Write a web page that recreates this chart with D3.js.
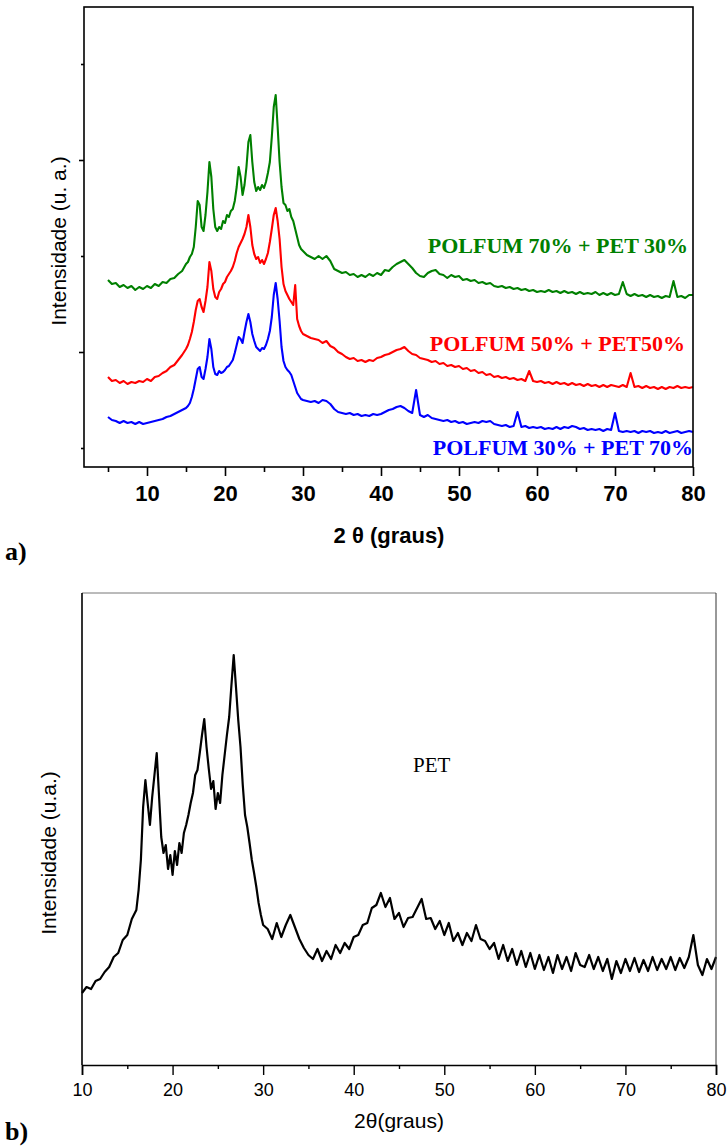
<!DOCTYPE html>
<html>
<head>
<meta charset="utf-8">
<script src="https://cdn.jsdelivr.net/npm/d3@7"></script>
<style>
  html, body { margin: 0; padding: 0; background: #fff; }
  svg { display: block; }
  .sans { font-family: "Liberation Sans", Arial, sans-serif; }
  .serif { font-family: "Liberation Serif", "Times New Roman", serif; }
</style>
</head>
<body>
<svg id="fig" width="727" height="1146"></svg>
<script>
// ---------- Panel a: POLFUM / PET blends ----------
// sampling angles (2θ, degrees): 0.5° steps, 0.25° through the crystalline region
const anglesA = [...d3.range(5, 15, 0.5), ...d3.range(15, 30, 0.25), ...d3.range(30, 80.001, 0.5)];

const blend70_30 = [
  187,183,184,180,182,179,181,177,180,178,181,179,183,181,185,184,188,189,193,196,203,
  205,210,213,220, 240,266,262,240, 236,252,275,305, 290,258,240,236, 240,238,246,244,
  252,250,256,258, 266,280,300,290, 272,282,300,325, 332,305,285,276, 280,277,282,279,
  285,294,305,330, 360,372,340,305, 280,264,262,256, 258,250,246,238, 230,222,218,216,
  212,210,208,211,208,211,206,198,196,194,
  195,192,193,190,192,190,193,191,194,192,
  197,196,200,203,205,207,203,199,194,191,
  190,194,196,197,193,192,189,192,190,191,
  187,188,186,187,184,185,183,184,181,180,
  181,179,180,178,179,177,178,176,177,175,
  176,175,177,175,176,174,176,174,175,173,
  175,173,174,173,175,172,174,172,174,172,
  173,185,173,171,173,171,172,170,172,170,
  171,169,171,170,186,170,171,169,172,172
];

const blend50_50 = [
  90,86,87,84,86,83,85,84,86,85,88,86,90,91,94,96,100,102,107,112,118,
  122,128,135,145, 157,166,168,160, 155,166,180,205, 196,178,170,168, 175,178,183,185,
  190,193,196,200, 206,214,220,224, 228,233,240,252, 240,222,213,208, 210,204,207,203,
  208,214,225,238, 252,259,246,228, 200,183,176,172, 168,165,162,182, 148,141,136,133,
  131,129,128,127,124,126,121,119,115,113,
  110,108,109,106,107,105,107,106,109,110,
  112,113,115,117,118,120,116,113,112,109,
  108,107,105,106,103,104,101,102,100,101,
  98,99,96,97,94,95,92,93,90,91,
  89,90,88,89,87,88,86,96,86,85,
  86,84,85,83,85,83,84,82,84,82,
  83,81,83,81,82,80,82,80,82,81,
  80,82,80,94,80,81,79,81,79,80,
  78,80,78,80,79,81,79,80,79,80
];

const blend30_70 = [
  50,47,46,44,46,44,45,43,45,43,44,45,46,47,48,50,51,53,55,57,59,
  61,64,70,78, 88,98,100,90, 88,98,110,128, 118,100,93,92, 96,94,95,97,
  100,101,104,107, 114,122,130,128, 124,135,145,153, 145,133,126,120, 118,116,119,118,
  122,128,136,150, 172,184,168,146, 120,106,100,97, 95,92,86,80, 74,71,68,67,
  66,65,66,64,67,66,63,58,55,54,
  53,54,52,53,51,52,51,53,52,53,
  55,57,58,60,61,59,56,54,77,52,
  50,52,49,48,47,46,47,45,46,44,
  45,43,44,45,44,46,45,46,43,42,
  41,42,40,41,55,40,41,39,40,39,
  40,38,39,38,40,38,40,39,41,40,
  38,39,37,38,37,38,36,38,37,54,
  36,35,36,35,36,34,36,35,36,34,
  35,34,36,34,35,36,34,35,36,35
];

const seriesA = [
  { name: "POLFUM 70% + PET 30%", values: blend70_30, color: "#008000" },
  { name: "POLFUM 50% + PET50%",  values: blend50_50, color: "#ff0000" },
  { name: "POLFUM 30% + PET 70%", values: blend30_70, color: "#0000ff" }
];
const ticksA_major = [10, 20, 30, 40, 50, 60, 70, 80];
const ticksA_minor = [5, 15, 25, 35, 45, 55, 65, 75];
const yTicksA_major = [115, 307];
const yTicksA_minor = [19, 211, 403];

// ---------- Panel b: PET ----------
const anglesB = [...d3.range(10, 16, 0.5), ...d3.range(16, 30, 0.25), ...d3.range(30, 80.001, 0.5)];

const pet = [
  72,78,76,84,86,93,98,108,112,125,130,146,155,
  175,205,258,285, 262,240,268,290, 312,270,228,212, 220,196,210,190, 214,200,222,212,
  232,240,250,262, 272,290,295,312, 330,346,318,296, 276,284,256,272, 262,290,310,330,
  348,380,410,378, 345,318,280,250, 238,222,205,192, 178,162,150,140,
  136,126,142,128,140,150,138,126,117,110,
  106,116,104,114,106,120,112,122,116,128,
  130,140,142,157,160,172,158,167,146,152,
  138,147,148,157,166,146,147,136,144,130,
  142,124,132,120,132,124,140,126,124,116,
  122,106,120,104,116,100,114,98,112,96,
  110,95,108,92,110,96,108,94,112,100,
  98,110,96,108,94,106,86,104,92,106,
  94,107,93,105,94,108,95,106,96,108,
  95,107,97,108,130,100,90,106,96,108
];
const ticksB_major = [10, 20, 30, 40, 50, 60, 70, 80];
const ticksB_minor = [15, 25, 35, 45, 55, 65, 75];

// ---------- drawing ----------
const svg = d3.select("#fig");

function pairs(angles, values) {
  const n = Math.min(angles.length, values.length);
  return d3.range(n).map(i => [angles[i], values[i]]);
}

// ===== panel a =====
const xA = d3.scaleLinear().domain([2, 80]).range([84.6, 693]);
const yA = d3.scaleLinear().domain([0, 461]).range([467, 6]);
const gA = svg.append("g");

const lineA = d3.line().x(d => xA(d[0])).y(d => yA(d[1]));
seriesA.forEach(s => {
  gA.append("path")
    .datum(pairs(anglesA, s.values))
    .attr("fill", "none")
    .attr("stroke", s.color)
    .attr("stroke-width", 2.1)
    .attr("stroke-linejoin", "round")
    .attr("d", lineA);
});

// frame
gA.append("rect")
  .attr("x", 84).attr("y", 7).attr("width", 609).attr("height", 460)
  .attr("fill", "none").attr("stroke", "#000").attr("stroke-width", 1.6);

// x axis
const axA = gA.append("g").attr("transform", "translate(0,467)")
  .call(d3.axisBottom(xA).tickValues(ticksA_major).tickSize(9).tickPadding(9).tickFormat(d3.format("d")));
axA.select(".domain").remove();
axA.selectAll("line").attr("stroke-width", 1.6);
axA.selectAll("text").attr("class", "sans").style("font-size", "22px").style("font-weight", "bold").attr("fill", "#000");
const axAm = gA.append("g").attr("transform", "translate(0,467)")
  .call(d3.axisBottom(xA).tickValues(ticksA_minor).tickSize(5).tickFormat(""));
axAm.select(".domain").remove();
axAm.selectAll("line").attr("stroke-width", 1.6);

// y axis
const ayA = gA.append("g").attr("transform", "translate(84,0)")
  .call(d3.axisLeft(yA).tickValues(yTicksA_major).tickSize(5).tickFormat(""));
ayA.select(".domain").remove();
ayA.selectAll("line").attr("stroke-width", 1.6);
const ayAm = gA.append("g").attr("transform", "translate(84,0)")
  .call(d3.axisLeft(yA).tickValues(yTicksA_minor).tickSize(3).tickFormat(""));
ayAm.select(".domain").remove();
ayAm.selectAll("line").attr("stroke-width", 1.6);

// series labels
const labelPosA = [
  { x: 688, y: 253 },
  { x: 685, y: 351 },
  { x: 693, y: 455 }
];
seriesA.forEach((s, i) => {
  gA.append("text").attr("class", "serif")
    .attr("x", labelPosA[i].x).attr("y", labelPosA[i].y)
    .attr("text-anchor", "end")
    .style("font-size", "22px").style("font-weight", "bold")
    .attr("fill", s.color)
    .text(s.name);
});

gA.append("text").attr("class", "sans")
  .attr("transform", "translate(66,241) rotate(-90)")
  .attr("text-anchor", "middle")
  .style("font-size", "21px")
  .text("Intensidade (u. a.)");

gA.append("text").attr("class", "sans")
  .attr("x", 389).attr("y", 543)
  .attr("text-anchor", "middle")
  .style("font-size", "22px").style("font-weight", "bold")
  .text("2 θ (graus)");

svg.append("text").attr("class", "serif")
  .attr("x", 5).attr("y", 560)
  .style("font-size", "26px").style("font-weight", "bold")
  .text("a)");

// ===== panel b =====
const xB = d3.scaleLinear().domain([10, 80]).range([82, 716]);
const yB = d3.scaleLinear().domain([0, 472]).range([1065, 593]);
const gB = svg.append("g");

const lineB = d3.line().x(d => xB(d[0])).y(d => yB(d[1]));
gB.append("path")
  .datum(pairs(anglesB, pet))
  .attr("fill", "none")
  .attr("stroke", "#000")
  .attr("stroke-width", 2.2)
  .attr("stroke-linejoin", "round")
  .attr("d", lineB);

// frame: top/right thin grey, left/bottom axes black
gB.append("line").attr("x1", 82).attr("x2", 716).attr("y1", 593).attr("y2", 593)
  .attr("stroke", "#777").attr("stroke-width", 1);
gB.append("line").attr("x1", 716).attr("x2", 716).attr("y1", 593).attr("y2", 1065)
  .attr("stroke", "#333").attr("stroke-width", 1);
gB.append("line").attr("x1", 82).attr("x2", 82).attr("y1", 593).attr("y2", 1065)
  .attr("stroke", "#000").attr("stroke-width", 1.6);

const axB = gB.append("g").attr("transform", "translate(0,1065)")
  .call(d3.axisBottom(xB).tickValues(ticksB_major).tickSize(10).tickPadding(8).tickFormat(d3.format("d")));
axB.select(".domain").attr("stroke-width", 1.6);
axB.selectAll("line").attr("stroke-width", 1.4);
axB.selectAll("text").attr("class", "sans").style("font-size", "18px").attr("fill", "#000");
const axBm = gB.append("g").attr("transform", "translate(0,1065)")
  .call(d3.axisBottom(xB).tickValues(ticksB_minor).tickSize(4).tickFormat(""));
axBm.select(".domain").remove();
axBm.selectAll("line").attr("stroke-width", 1.4);

gB.append("text").attr("class", "serif")
  .attr("x", 413).attr("y", 772)
  .style("font-size", "21px")
  .text("PET");

gB.append("text").attr("class", "sans")
  .attr("transform", "translate(56,853) rotate(-90)")
  .attr("text-anchor", "middle")
  .style("font-size", "21px")
  .text("Intensidade (u.a.)");

gB.append("text").attr("class", "sans")
  .attr("x", 399).attr("y", 1128)
  .attr("text-anchor", "middle")
  .style("font-size", "21px")
  .text("2θ(graus)");

svg.append("text").attr("class", "serif")
  .attr("x", 5).attr("y", 1140)
  .style("font-size", "26px").style("font-weight", "bold")
  .text("b)");
</script>
</body>
</html>
